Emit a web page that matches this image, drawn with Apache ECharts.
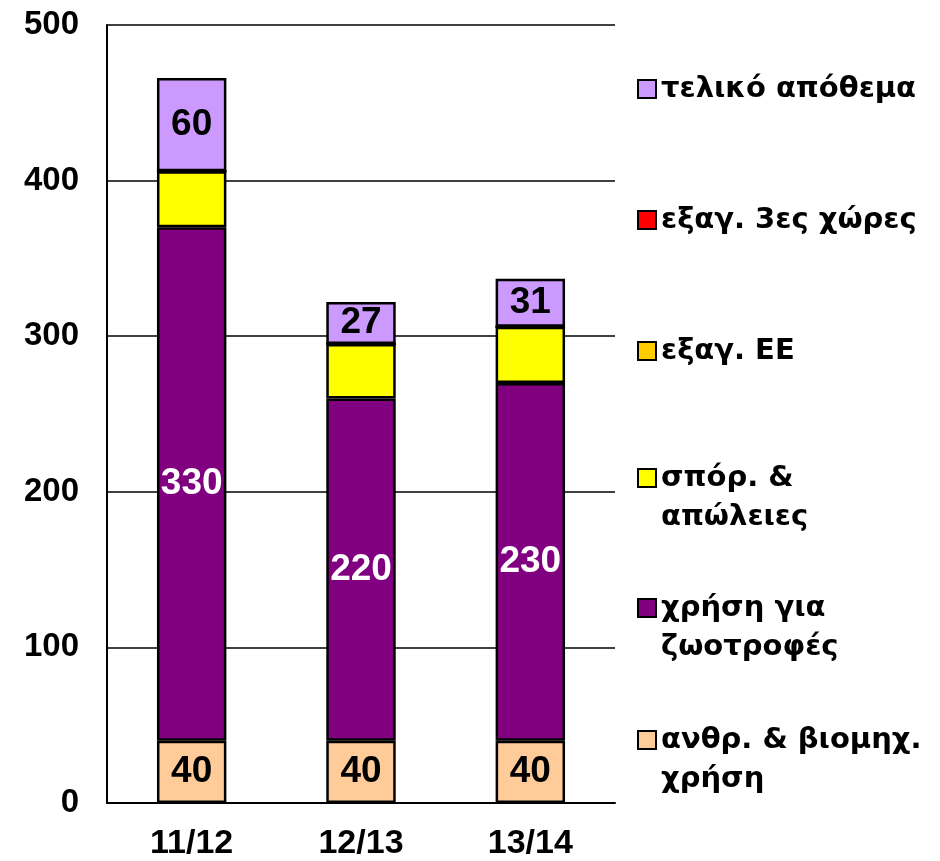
<!DOCTYPE html>
<html>
<head>
<meta charset="utf-8">
<script src="https://cdn.jsdelivr.net/npm/echarts@6/dist/echarts.min.js"></script>
<style>
  html, body { margin: 0; padding: 0; background: #fff; }
  #chart { width: 940px; height: 861px; }
</style>
</head>
<body>
<div id="chart"></div>
<script>
// Marketing years on the x axis
const categories = ['11/12', '12/13', '13/14'];

// Stacked uses, bottom to top
const humanIndustrial = [40, 40, 40];
const feedUse = [330, 220, 230];
const seedLosses = [36, 35, 36];
const exportsEU = [0, 0, 0];
const exportsThird = [0, 0, 0];
const endingStocks = [60, 27, 31];

const yTicks = [0, 100, 200, 300, 400, 500];

const names = {
  human: 'ανθρ. & βιομηχ. χρήση',
  feed: 'χρήση για ζωοτροφές',
  seed: 'σπόρ. & απώλειες',
  eu: 'εξαγ. ΕΕ',
  third: 'εξαγ. 3ες χώρες',
  stock: 'τελικό απόθεμα'
};
// Legend wording, with line breaks
const legendText = {
  [names.stock]: 'τελικό απόθεμα',
  [names.third]: 'εξαγ. 3ες χώρες',
  [names.eu]: 'εξαγ. ΕΕ',
  [names.seed]: '\nσπόρ. &\nαπώλειες',
  [names.feed]: '\nχρήση για\nζωοτροφές',
  [names.human]: '\nανθρ. & βιομηχ.\nχρήση'
};

const FONT = '"Liberation Sans", Arial, sans-serif';
const LEGEND_FONT = '"DejaVu Sans", Verdana, sans-serif';

function barSeries(name, data, color, labelColor) {
  return {
    name: name,
    type: 'bar',
    stack: 'total',
    data: data,
    barWidth: '41%',
    itemStyle: { color: color, borderColor: '#000', borderWidth: 2.5 },
    label: labelColor ? {
      show: true,
      position: 'inside',
      color: labelColor,
      fontFamily: FONT,
      fontWeight: 'bold',
      fontSize: 37
    } : { show: false },
    emphasis: { disabled: true }
  };
}

// One legend block per entry so each sits at its own height
const legendOrder = [names.stock, names.third, names.eu, names.seed, names.feed, names.human];
const legendCenters = [89, 220, 351, 478, 608, 740];
const LH = 39;
const legends = legendOrder.map((n, i) => {
  const twoLine = legendText[n].startsWith('\n');
  const h = twoLine ? 3 * LH : LH;
  return {
    data: [n],
    left: 637,
    top: legendCenters[i] - h / 2,
    padding: 0,
    orient: 'vertical',
    icon: 'rect',
    itemWidth: 18,
    itemHeight: 18,
    selectedMode: false,
    formatter: (nm) => legendText[nm],
    textStyle: {
      color: '#000',
      fontFamily: LEGEND_FONT,
      fontWeight: 'bold',
      fontSize: 29,
      lineHeight: LH
    }
  };
});

const chart = echarts.init(document.getElementById('chart'), null, { renderer: 'canvas' });
chart.setOption({
  animation: false,
  backgroundColor: '#fff',
  grid: { left: 107, right: 325, top: 25, bottom: 58, containLabel: false },
  legend: legends,
  xAxis: {
    type: 'category',
    data: categories,
    axisLine: { lineStyle: { color: '#000', width: 2 } },
    axisTick: { show: false },
    axisLabel: {
      color: '#000',
      fontFamily: FONT,
      fontWeight: 'bold',
      fontSize: 34,
      margin: 24
    }
  },
  yAxis: {
    type: 'value',
    min: yTicks[0],
    max: yTicks[yTicks.length - 1],
    interval: 100,
    axisLine: { show: true, lineStyle: { color: '#000', width: 2 } },
    axisTick: { show: false },
    splitLine: { lineStyle: { color: '#000', width: 1.5 } },
    axisLabel: {
      color: '#000',
      fontFamily: FONT,
      fontWeight: 'bold',
      fontSize: 33,
      margin: 28
    }
  },
  series: [
    barSeries(names.human, humanIndustrial, '#FFCC99', '#000'),
    barSeries(names.feed, feedUse, '#800080', '#fff'),
    barSeries(names.seed, seedLosses, '#FFFF00', null),
    barSeries(names.eu, exportsEU, '#FFCC00', null),
    barSeries(names.third, exportsThird, '#FF0000', null),
    barSeries(names.stock, endingStocks, '#CC99FF', '#000')
  ]
});
</script>
</body>
</html>
